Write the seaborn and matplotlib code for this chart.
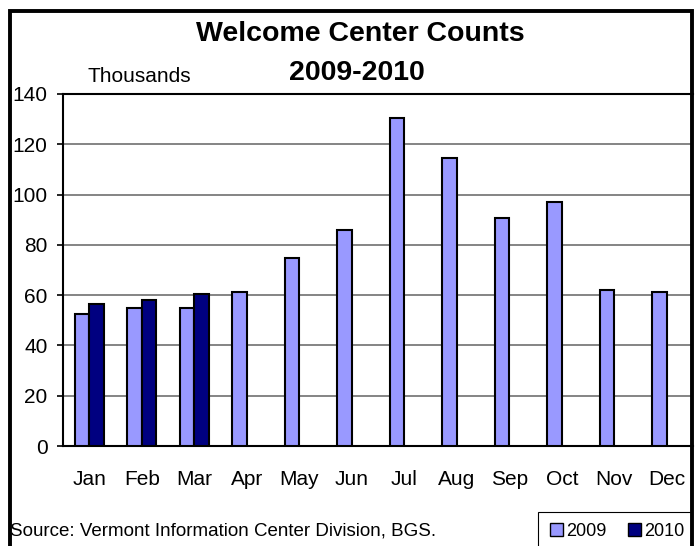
import matplotlib
matplotlib.use("Agg")
import matplotlib.pyplot as plt
from matplotlib.patches import Rectangle, Patch
import seaborn as sns
import pandas as pd
import numpy as np

months = ["Jan", "Feb", "Mar", "Apr", "May", "Jun", "Jul", "Aug", "Sep", "Oct", "Nov", "Dec"]
counts_2009 = [52.5, 54.9, 54.9, 61.3, 74.8, 85.9, 130.6, 114.7, 90.8, 97.2, 62.2, 61.3]
months_2010 = ["Jan", "Feb", "Mar"]
counts_2010 = [56.6, 58.1, 60.6]
years = ["2009", "2010"]
colors = {"2009": "#9999FF", "2010": "#000080"}

rows = [{"Month": m, "Year": "2009", "Count": v} for m, v in zip(months, counts_2009)]
rows += [{"Month": m, "Year": "2010", "Count": v} for m, v in zip(months_2010, counts_2010)]
df = pd.DataFrame(rows)

sns.set_style("white")
plt.rcParams["font.family"] = ["Liberation Sans", "DejaVu Sans"]
plt.rcParams["text.color"] = "black"
plt.rcParams["xtick.color"] = "black"
plt.rcParams["ytick.color"] = "black"

W, H = 697, 546
fig = plt.figure(figsize=(W / 100, H / 100), dpi=100)
ax = fig.add_axes([63 / W, 1 - 446 / H, (693 - 63) / W, (446 - 94) / H])

sns.barplot(data=df, x="Month", y="Count", hue="Year", order=months, hue_order=years,
            palette=colors, saturation=1, width=0.56, edgecolor="black", linewidth=1.5,
            legend=False, ax=ax, zorder=3)

ax.set_xlim(-0.5, 11.5)
ax.set_ylim(0, 140)
ax.set_yticks(np.arange(0, 141, 20))
ax.yaxis.grid(True, color="#707070", linewidth=1.2, zorder=0)
ax.set_axisbelow(True)
ax.set_xlabel("")
ax.set_ylabel("")

ax.set_xticks(np.arange(12))
ax.set_xticklabels(months)
ax.set_xticks(np.arange(-0.5, 12, 1), minor=True)
ax.tick_params(axis="x", which="major", length=0, pad=17, labelsize=15, colors="black")
ax.tick_params(axis="x", which="minor", length=5, width=1.2, color="black", direction="out")
ax.tick_params(axis="y", which="major", length=4, width=1.2, color="black", direction="out",
               pad=7, labelsize=15, labelcolor="black", left=True)

for s in ["top", "left", "bottom"]:
    ax.spines[s].set_color("black")
    ax.spines[s].set_linewidth(1.5)
ax.spines["right"].set_visible(False)

# Titles and annotations
fig.text(360 / W, 1 - 34 / H, "Welcome Center Counts", ha="center", va="center",
         fontsize=20.5, fontweight="bold", color="black")
fig.text(357 / W, 1 - 72.5 / H, "2009-2010", ha="center", va="center",
         fontsize=20.5, fontweight="bold", color="black")
fig.text(88 / W, 1 - 76 / H, "Thousands", ha="left", va="center", fontsize=15, color="black")
fig.text(10 / W, 1 - 531 / H, "Source: Vermont Information Center Division, BGS.",
         ha="left", va="center", fontsize=13.5, color="black")

# Outer frame
fig.patches.append(Rectangle((9.5 / W, -0.1), (692 - 9.5) / W, 1.1 - 11 / H,
                             transform=fig.transFigure, fill=False,
                             edgecolor="black", linewidth=2.8, zorder=10))
# Legend frame
fig.patches.append(Rectangle((538 / W, -0.1), (692 - 538) / W, 0.1 + (1 - 512 / H),
                             transform=fig.transFigure, fill=False,
                             edgecolor="black", linewidth=0.8, zorder=9))

handles = [Patch(facecolor=colors[y], edgecolor="black", linewidth=1.0, label=y) for y in years]
fig.legend(handles=handles, loc="center left", bbox_to_anchor=(550 / W, 1 - 531 / H),
           ncol=2, frameon=False, fontsize=13, handlelength=0.7, handleheight=0.7,
           handletextpad=0.2, columnspacing=1.2, borderpad=0, borderaxespad=0)

fig.savefig("out.png", dpi=100)
